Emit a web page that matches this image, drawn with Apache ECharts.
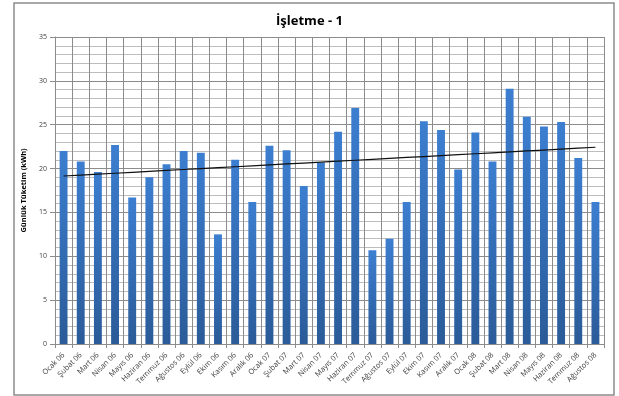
<!DOCTYPE html>
<html>
<head>
<meta charset="utf-8">
<script src="https://cdn.jsdelivr.net/npm/echarts@6/dist/echarts.min.js"></script>
<style>
  html, body { margin: 0; padding: 0; background: #fff; }
  #chart { width: 619px; height: 396px; }
</style>
</head>
<body>
<div id="chart"></div>
<script>
// Monthly categories
const months = [
  'Ocak 06', 'Şubat 06', 'Mart 06', 'Nisan 06', 'Mayıs 06', 'Haziran 06',
  'Temmuz 06', 'Ağustos 06', 'Eylül 06', 'Ekim 06', 'Kasım 06', 'Aralık 06',
  'Ocak 07', 'Şubat 07', 'Mart 07', 'Nisan 07', 'Mayıs 07', 'Haziran 07',
  'Temmuz 07', 'Ağustos 07', 'Eylül 07', 'Ekim 07', 'Kasım 07', 'Aralık 07',
  'Ocak 08', 'Şubat 08', 'Mart 08', 'Nisan 08', 'Mayıs 08', 'Haziran 08',
  'Temmuz 08', 'Ağustos 08'
];

// Daily consumption (kWh)
const consumption = [
  22.0, 20.8, 19.6, 22.7, 16.7, 19.0,
  20.5, 22.0, 21.8, 12.5, 21.0, 16.2,
  22.6, 22.1, 18.0, 20.7, 24.2, 26.9,
  10.7, 12.0, 16.2, 25.4, 24.4, 19.9,
  24.1, 20.8, 29.1, 25.9, 24.8, 25.3,
  21.2, 16.2
];

// Linear trend line (least squares fit over month index)
function linearTrend(values) {
  const n = values.length;
  let sx = 0, sy = 0, sxx = 0, sxy = 0;
  values.forEach((y, i) => { sx += i; sy += y; sxx += i * i; sxy += i * y; });
  const slope = (n * sxy - sx * sy) / (n * sxx - sx * sx);
  const intercept = (sy - slope * sx) / n;
  return values.map((_, i) => +(intercept + slope * i).toFixed(3));
}
const trend = linearTrend(consumption);

const chart = echarts.init(document.getElementById('chart'), null, { renderer: 'canvas' });
const labelColor = '#404040';
const fontFamily = '"Open Sans", "Liberation Sans", sans-serif';

chart.setOption({
  animation: false,
  backgroundColor: '#fff',
  title: {
    text: 'İşletme - 1',
    left: 'center',
    top: 10,
    textStyle: { fontFamily: fontFamily, fontSize: 13, fontWeight: 'bold', color: '#000' }
  },
  graphic: [{
    type: 'rect',
    shape: { x: 14, y: 3, width: 600, height: 392 },
    style: { fill: 'none', stroke: '#8c8c8c', lineWidth: 1.5 },
    silent: true
  }],
  grid: { left: 55, top: 37, right: 15, bottom: 52 },
  xAxis: {
    type: 'category',
    data: months,
    boundaryGap: true,
    axisLine: { show: true, lineStyle: { color: '#8c8c8c', width: 1 } },
    axisTick: { show: true, alignWithLabel: false, length: 4, lineStyle: { color: '#8c8c8c' } },
    splitLine: { show: true, interval: 0, lineStyle: { color: '#8c8c8c', width: 1 } },
    axisLabel: {
      interval: 0,
      rotate: 45,
      margin: 10,
      fontFamily: fontFamily,
      fontSize: 7.5,
      color: labelColor
    }
  },
  yAxis: {
    type: 'value',
    min: 0,
    max: 35,
    interval: 5,
    name: 'Günlük Tüketim (kWh)',
    nameLocation: 'middle',
    nameGap: 24,
    nameRotate: 90,
    nameTextStyle: { fontFamily: fontFamily, fontSize: 7.5, fontWeight: 'bold', color: '#000' },
    axisLine: { show: true, lineStyle: { color: '#8c8c8c', width: 1 } },
    axisTick: { show: true, length: 5, lineStyle: { color: '#8c8c8c' } },
    axisLabel: { fontFamily: fontFamily, fontSize: 7, color: labelColor, margin: 8 },
    splitLine: { show: true, lineStyle: { color: '#8c8c8c', width: 1 } },
    minorTick: { show: false, splitNumber: 5 },
    minorSplitLine: { show: true, lineStyle: { color: '#bdbdbd', width: 1 } }
  },
  series: [
    {
      name: 'Günlük Tüketim',
      type: 'bar',
      data: consumption,
      barWidth: '46%',
      itemStyle: {
        color: new echarts.graphic.LinearGradient(0, 0, 0, 1, [
          { offset: 0, color: '#3c7ed0' },
          { offset: 1, color: '#2b5b98' }
        ])
      },
      z: 2
    },
    {
      name: 'Trend',
      type: 'line',
      data: trend,
      symbol: 'none',
      lineStyle: { color: '#111', width: 1.2 },
      z: 3
    }
  ]
});
</script>
</body>
</html>
